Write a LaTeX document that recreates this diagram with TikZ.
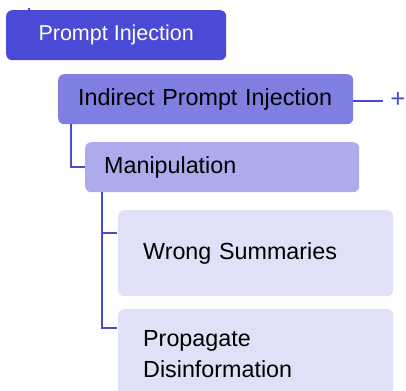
\documentclass[tikz,border=0pt]{standalone}
\usepackage{fontspec}
\setmainfont{Liberation Sans}
\definecolor{cA}{HTML}{4A4AD6}
\definecolor{cB}{HTML}{7F7FE2}
\definecolor{cC}{HTML}{ACACEC}
\definecolor{cD}{HTML}{E0E0F6}
\begin{document}
\begin{tikzpicture}[x=1pt,y=-1pt,
  box/.style={rounded corners=6pt, anchor=north west, inner ysep=0pt, align=left,
    font=\fontsize{23.3}{31}\selectfont},
  link/.style={draw=cA, line width=2.2pt}]
\useasboundingbox (0,0) rectangle (406,390);
\clip (0,0) rectangle (406,390);
% root
\node[box, fill=cA, text=white, minimum width=220pt, minimum height=50pt, align=center,
  font=\fontsize{21.5}{24}\selectfont] (pi) at (6,10) {Prompt Injection};
\coordinate (top) at (29,8);
\draw[link] (top) -- (29,12);
% second level
\node[box, fill=cB, minimum height=50pt, text width=255pt, inner xsep=20pt] (ipi) at (58,74) {Indirect Prompt Injection};
\coordinate (plusend) at (383,101);
\draw[link] (ipi.east |- plusend) -- (plusend);
\node[text=cA, font=\fontsize{26}{28}\selectfont, inner sep=0pt] (plus) at (398,100) {+};
% third level
\node[box, fill=cC, minimum height=50pt, text width=236pt, inner xsep=19pt] (man) at (85,142) {Manipulation};
\draw[link] (71,124) |- (man.west);
% leaves
\node[box, fill=cD, minimum height=86pt, text width=225pt, inner xsep=25pt] (ws) at (118,210) {Wrong Summaries};
\node[box, fill=cD, minimum height=90pt, text width=225pt, inner xsep=25pt] (pd) at (118,309) {\rule{0pt}{14pt}Propagate\\Disinformation};
\draw[link] (102,192) |- (117,233);
\draw[link] (102,232) |- (117,328);
\end{tikzpicture}
\end{document}
